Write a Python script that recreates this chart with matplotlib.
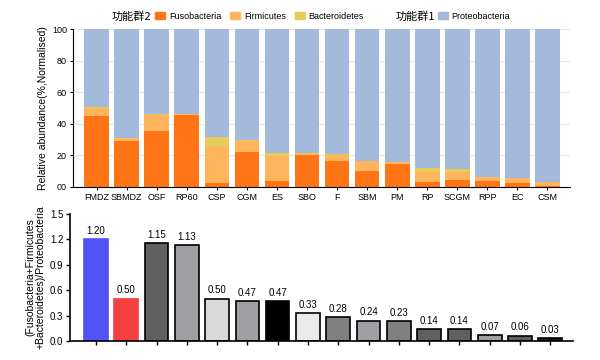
import matplotlib
matplotlib.use('Agg')
import matplotlib.pyplot as plt
from matplotlib.patches import Patch
import numpy as np

plt.rcParams['font.family'] = ['Liberation Sans', 'Noto Sans CJK SC', 'DejaVu Sans']

samples = ['FMDZ', 'SBMDZ', 'OSF', 'RP60', 'CSP', 'CGM', 'ES', 'SBO',
           'F', 'SBM', 'PM', 'RP', 'SCGM', 'RPP', 'EC', 'CSM']
fusobacteria = [44.7, 29.3, 35.4, 45.4, 2.5, 22.4, 3.8, 20.0,
                16.7, 10.3, 14.3, 3.0, 4.4, 4.0, 2.5, 0.4]
firmicutes = [5.5, 1.0, 10.3, 1.0, 22.6, 6.7, 15.6, 0.8,
              3.6, 6.2, 1.7, 6.5, 5.3, 2.3, 3.2, 2.8]
bacteroidetes = [0.2, 0.7, 0.3, 0.0, 6.3, 0.9, 2.1, 0.5,
                 0.6, 0.2, 0.0, 2.7, 1.7, 0.0, 0.0, 0.0]
proteobacteria = [100 - a - b - c for a, b, c in zip(fusobacteria, firmicutes, bacteroidetes)]

ratio = [1.20, 0.50, 1.15, 1.13, 0.50, 0.47, 0.47, 0.33,
         0.28, 0.24, 0.23, 0.14, 0.14, 0.07, 0.06, 0.03]
ratio_colors = ['#5252F5', '#F54040', '#606060', '#A0A0A4', '#D9D9D9', '#A0A0A4',
                '#000000', '#EBEBEB', '#808080', '#A0A0A4', '#808080', '#606060',
                '#606060', '#A0A0A4', '#606060', '#1A1A1A']
ratio_edges = ['#5252F5', '#F54040'] + ['#000000'] * 14

c_fuso = '#FF7414'
c_firm = '#FFB55C'
c_bact = '#E9CB5C'
c_prot = '#A3BADB'

fig = plt.figure(figsize=(6, 3.6), dpi=100)
x = np.arange(len(samples))

# top: stacked composition
ax1 = fig.add_axes([0.122, 0.481, 0.828, 0.438])
b1 = np.array(fusobacteria)
b2 = b1 + np.array(firmicutes)
b3 = b2 + np.array(bacteroidetes)
w = 0.82
ax1.bar(x, fusobacteria, w, color=c_fuso, zorder=2)
ax1.bar(x, firmicutes, w, bottom=b1, color=c_firm, zorder=2)
ax1.bar(x, bacteroidetes, w, bottom=b2, color=c_bact, zorder=2)
ax1.bar(x, proteobacteria, w, bottom=b3, color=c_prot, zorder=2)
ax1.set_xlim(-0.78, 15.75)
ax1.set_ylim(0, 100)
ax1.set_yticks([0, 20, 40, 60, 80, 100])
ax1.set_yticklabels(['00', '20', '40', '60', '80', '100'])
ax1.set_xticks(x)
ax1.set_xticklabels(samples)
ax1.yaxis.grid(True, color='#E6E6E6', linewidth=0.8, zorder=0)
ax1.tick_params(labelsize=6.5, length=2.5, width=0.8, pad=2)
for s in ['top', 'right']:
    ax1.spines[s].set_visible(False)
ax1.set_ylabel('Relative abundance(%,Normalised)', fontsize=7.5, labelpad=3)

leg_kw = dict(frameon=False, fontsize=6.5, handlelength=1.1, handleheight=0.9,
              handletextpad=0.4, borderaxespad=0, borderpad=0)
fig.text(0.186, 0.955, '功能群2', fontsize=8, ha='left', va='center', family=['Noto Sans CJK SC'])
fig.legend(handles=[Patch(color=c_fuso), Patch(color=c_firm), Patch(color=c_bact)],
           labels=['Fusobacteria', 'Firmicutes', 'Bacteroidetes'],
           loc='center left', bbox_to_anchor=(0.259, 0.955), ncol=3,
           columnspacing=1.0, **leg_kw)
fig.text(0.660, 0.955, '功能群1', fontsize=8, ha='left', va='center', family=['Noto Sans CJK SC'])
fig.legend(handles=[Patch(color=c_prot)], labels=['Proteobacteria'],
           loc='center left', bbox_to_anchor=(0.730, 0.955), **leg_kw)

# bottom: ratio
ax2 = fig.add_axes([0.117, 0.053, 0.838, 0.353])
ax2.bar(x, ratio, 0.78, color=ratio_colors, edgecolor=ratio_edges, linewidth=1.2, zorder=2)
for xi, v in zip(x, ratio):
    ax2.text(xi, v + 0.04, f'{v:.2f}', ha='center', va='bottom', fontsize=7)
ax2.set_xlim(-0.85, 15.75)
ax2.set_ylim(0, 1.5)
ax2.set_yticks([0, 0.3, 0.6, 0.9, 1.2, 1.5])
ax2.set_yticklabels(['0.0', '0.3', '0.6', '0.9', '1.2', '1.5'])
ax2.set_xticks(x)
ax2.set_xticklabels([])
ax2.tick_params(labelsize=7, length=3, width=1, pad=2)
for s in ['top', 'right']:
    ax2.spines[s].set_visible(False)
for s in ['left', 'bottom']:
    ax2.spines[s].set_linewidth(1.2)
ax2.set_ylabel('(Fusobacteria+Firmicutes\n+Bacteroidetes)/Proteobacteria', fontsize=7.5,
               labelpad=3, linespacing=1.0)

fig.savefig('out.png', dpi=100)
